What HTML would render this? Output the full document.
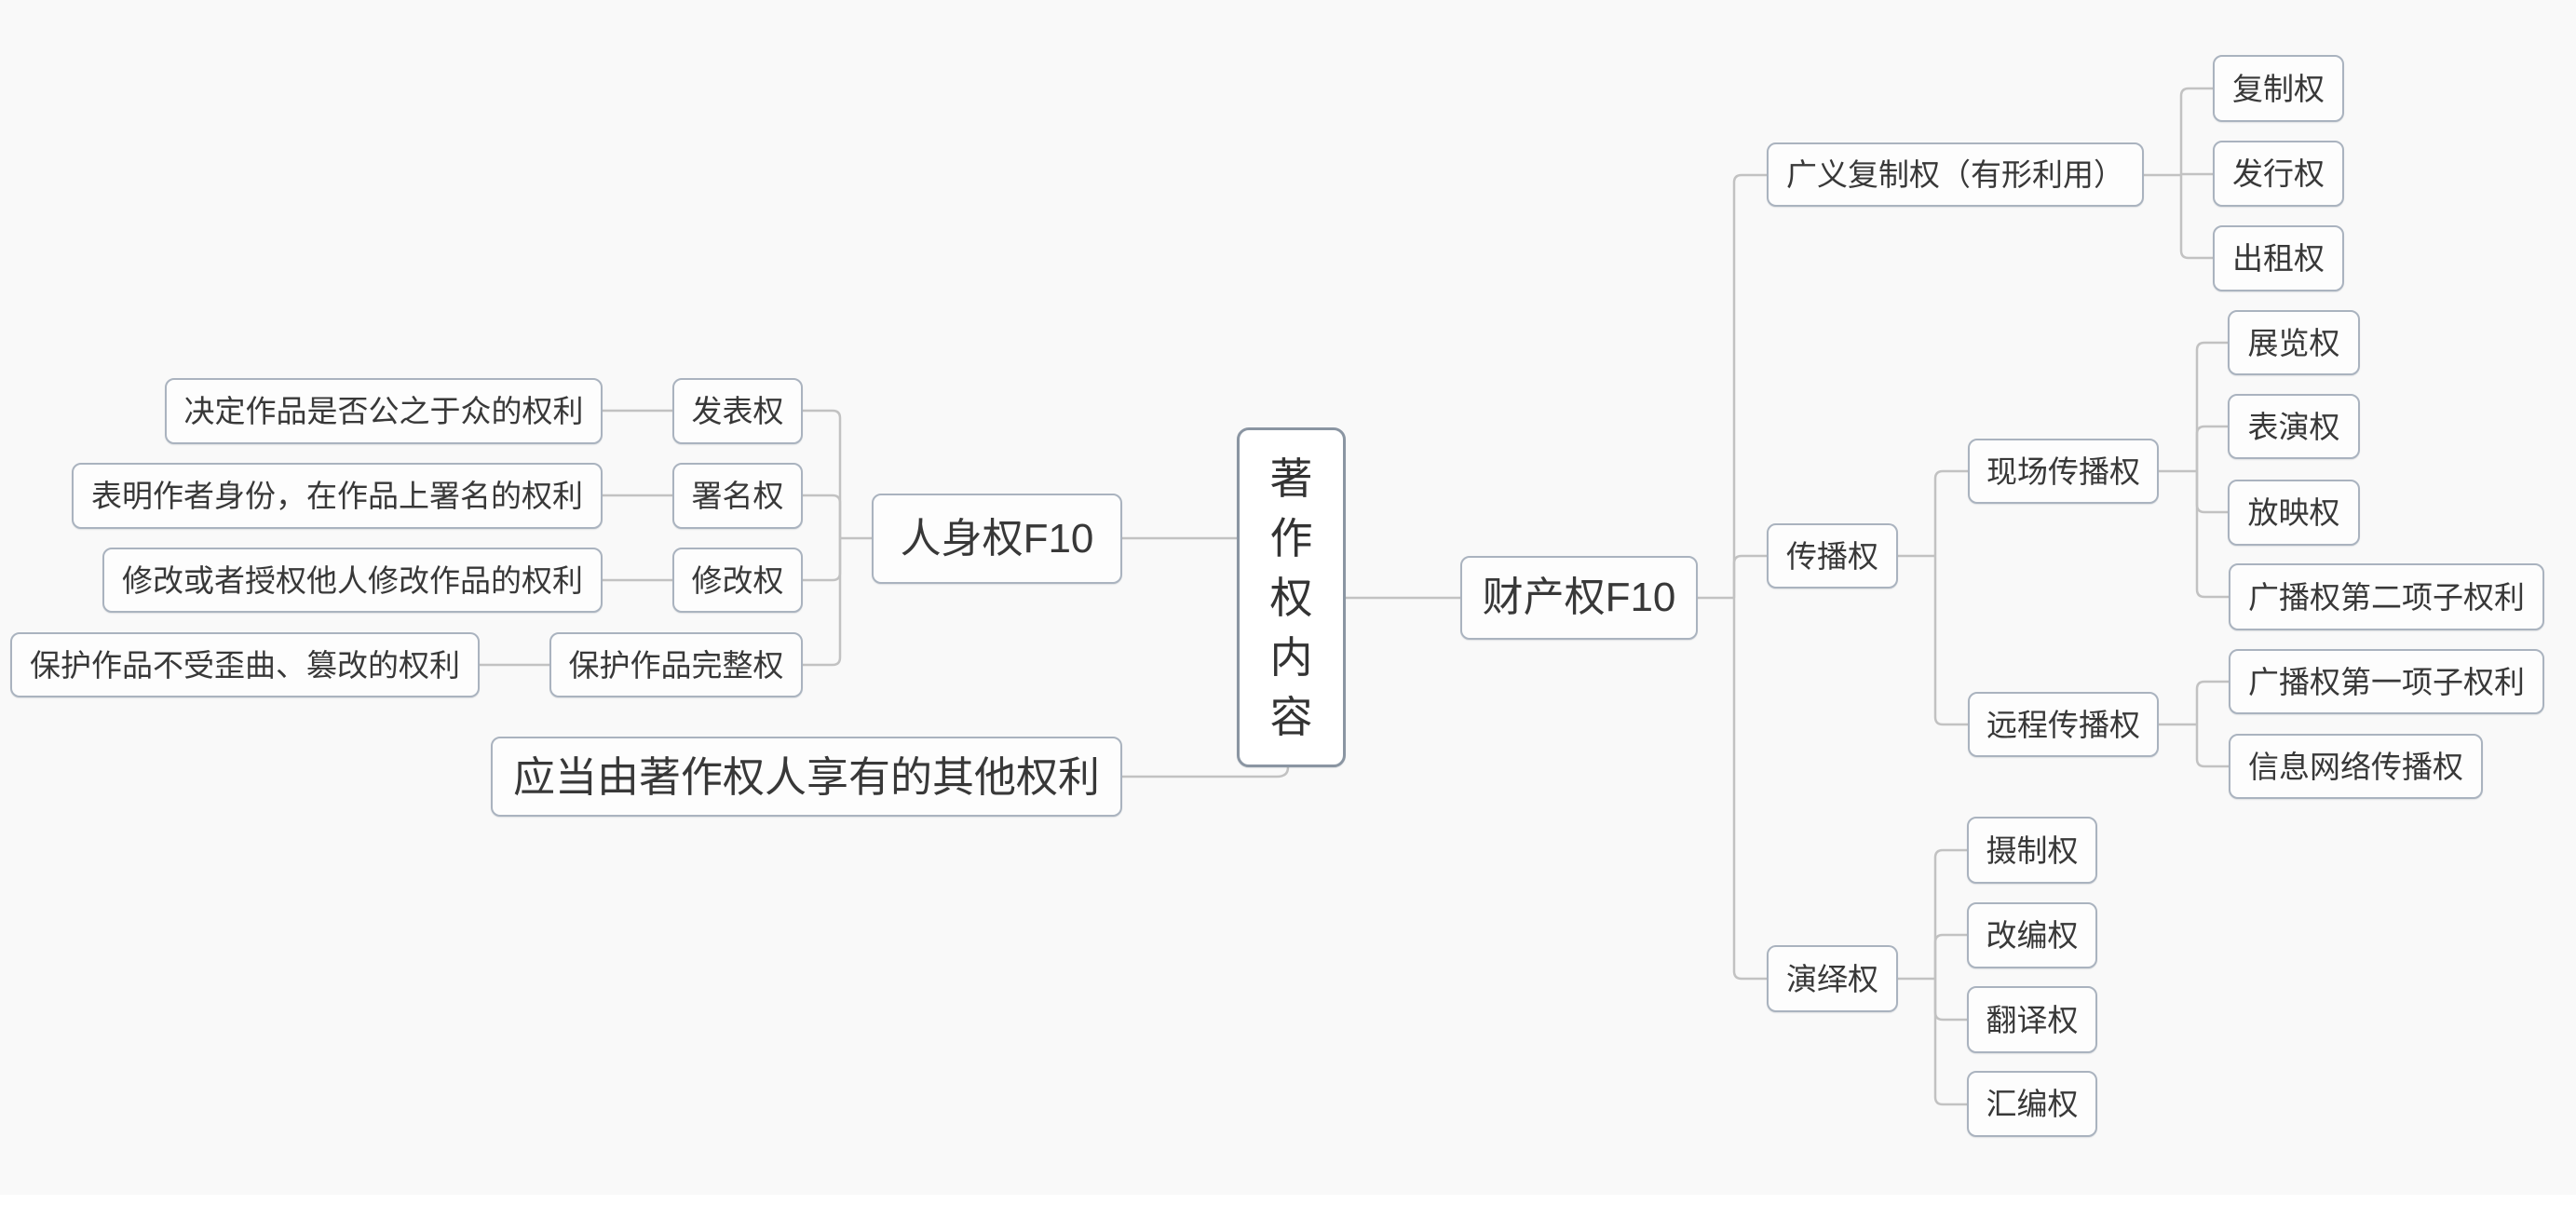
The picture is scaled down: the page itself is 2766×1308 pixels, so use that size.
<!DOCTYPE html>
<html>
<head>
<meta charset="utf-8">
<style>
  html, body { margin:0; padding:0; }
  body { width:2766px; height:1308px; background:#ffffff; position:relative; overflow:hidden;
         font-family:"Liberation Sans","Noto Sans CJK SC","WenQuanYi Zen Hei",sans-serif; }
  #bg { position:absolute; left:0; top:0; width:2766px; height:1283px; background:#f9f9f9; }
  svg { position:absolute; left:0; top:0; }
  .n { position:absolute; box-sizing:border-box; border:2px solid #aab3bf; border-radius:10px;
       background:#fdfdfd; display:flex; align-items:center; justify-content:center;
       color:#383838; font-size:33px; line-height:1; white-space:nowrap;
       box-shadow:0 1px 1px rgba(90,100,115,0.15); }
  .big { font-size:44px; }
  .c { border:3px solid #8a95a2; border-radius:13px; background:#ffffff; flex-direction:column;
       font-size:46px; line-height:64px; color:#333; }
</style>
</head>
<body>
<div id="bg"></div>
<svg width="2766" height="1308" viewBox="0 0 2766 1308">
  <g fill="none" stroke="#c2c2c2" stroke-width="2.5">
    <!-- center links -->
    <path d="M1328,578 H1205"/>
    <path d="M1445,642 H1568"/>
    <path d="M1383,824 Q1383,834 1371,834 H1205"/>
    <!-- 人身权 -->
    <path d="M936,578 H902"/>
    <path d="M902,578 V449 Q902,441 894,441 H862"/>
    <path d="M902,578 V540 Q902,532 894,532 H862"/>
    <path d="M902,578 V615 Q902,623 894,623 H862"/>
    <path d="M902,578 V706 Q902,714 894,714 H862"/>
    <path d="M722,441 H647"/>
    <path d="M722,532 H647"/>
    <path d="M722,623 H647"/>
    <path d="M590,714 H515"/>
    <!-- 财产权 -->
    <path d="M1823,642 H1862"/>
    <path d="M1862,642 V196 Q1862,188 1870,188 H1897"/>
    <path d="M1862,642 V605 Q1862,597 1870,597 H1897"/>
    <path d="M1862,642 V1043 Q1862,1051 1870,1051 H1897"/>
    <!-- 广义复制权 -->
    <path d="M2302,188 H2342"/>
    <path d="M2342,188 V103 Q2342,95 2350,95 H2376"/>
    <path d="M2342,187 H2376"/>
    <path d="M2342,188 V269 Q2342,277 2350,277 H2376"/>
    <!-- 传播权 -->
    <path d="M2038,597 H2078"/>
    <path d="M2078,597 V514 Q2078,506 2086,506 H2113"/>
    <path d="M2078,597 V770 Q2078,778 2086,778 H2113"/>
    <!-- 现场传播权 -->
    <path d="M2318,506 H2359"/>
    <path d="M2359,506 V376 Q2359,368 2367,368 H2392"/>
    <path d="M2359,506 V466 Q2359,458 2367,458 H2392"/>
    <path d="M2359,506 V542 Q2359,550 2367,550 H2392"/>
    <path d="M2359,506 V633 Q2359,641 2367,641 H2393"/>
    <!-- 远程传播权 -->
    <path d="M2318,778 H2359"/>
    <path d="M2359,778 V740 Q2359,732 2367,732 H2393"/>
    <path d="M2359,778 V815 Q2359,823 2367,823 H2393"/>
    <!-- 演绎权 -->
    <path d="M2038,1051 H2078"/>
    <path d="M2078,1051 V921 Q2078,913 2086,913 H2112"/>
    <path d="M2078,1051 V1012 Q2078,1004 2086,1004 H2112"/>
    <path d="M2078,1051 V1087 Q2078,1095 2086,1095 H2112"/>
    <path d="M2078,1051 V1178 Q2078,1186 2086,1186 H2112"/>
  </g>
</svg>

<!-- center -->
<div class="n c" style="left:1328px;top:459px;width:117px;height:365px;">
  <span>著</span><span>作</span><span>权</span><span>内</span><span>容</span>
</div>

<!-- left -->
<div class="n big" style="left:936px;top:530px;width:269px;height:97px;">人身权F10</div>
<div class="n" style="left:527px;top:791px;width:678px;height:86px;font-size:45px;">应当由著作权人享有的其他权利</div>

<div class="n" style="left:722px;top:406px;width:140px;height:71px;">发表权</div>
<div class="n" style="left:722px;top:497px;width:140px;height:71px;">署名权</div>
<div class="n" style="left:722px;top:588px;width:140px;height:70px;">修改权</div>
<div class="n" style="left:590px;top:679px;width:272px;height:70px;">保护作品完整权</div>

<div class="n" style="left:177px;top:406px;width:470px;height:71px;">决定作品是否公之于众的权利</div>
<div class="n" style="left:77px;top:497px;width:570px;height:71px;">表明作者身份，在作品上署名的权利</div>
<div class="n" style="left:110px;top:588px;width:537px;height:70px;">修改或者授权他人修改作品的权利</div>
<div class="n" style="left:11px;top:679px;width:504px;height:70px;">保护作品不受歪曲、篡改的权利</div>

<!-- right -->
<div class="n big" style="left:1568px;top:597px;width:255px;height:90px;">财产权F10</div>

<div class="n" style="left:1897px;top:153px;width:405px;height:69px;">广义复制权（有形利用）</div>
<div class="n" style="left:1897px;top:562px;width:141px;height:70px;">传播权</div>
<div class="n" style="left:1897px;top:1015px;width:141px;height:72px;">演绎权</div>

<div class="n" style="left:2376px;top:59px;width:141px;height:72px;">复制权</div>
<div class="n" style="left:2376px;top:151px;width:141px;height:71px;">发行权</div>
<div class="n" style="left:2376px;top:242px;width:141px;height:71px;">出租权</div>

<div class="n" style="left:2113px;top:471px;width:205px;height:70px;">现场传播权</div>
<div class="n" style="left:2113px;top:743px;width:205px;height:70px;">远程传播权</div>

<div class="n" style="left:2392px;top:333px;width:142px;height:70px;">展览权</div>
<div class="n" style="left:2392px;top:423px;width:142px;height:70px;">表演权</div>
<div class="n" style="left:2392px;top:515px;width:142px;height:71px;">放映权</div>
<div class="n" style="left:2393px;top:605px;width:339px;height:72px;">广播权第二项子权利</div>
<div class="n" style="left:2393px;top:697px;width:339px;height:70px;">广播权第一项子权利</div>
<div class="n" style="left:2393px;top:788px;width:273px;height:70px;">信息网络传播权</div>

<div class="n" style="left:2112px;top:877px;width:140px;height:72px;">摄制权</div>
<div class="n" style="left:2112px;top:969px;width:140px;height:71px;">改编权</div>
<div class="n" style="left:2112px;top:1059px;width:140px;height:72px;">翻译权</div>
<div class="n" style="left:2112px;top:1150px;width:140px;height:71px;">汇编权</div>
</body>
</html>
